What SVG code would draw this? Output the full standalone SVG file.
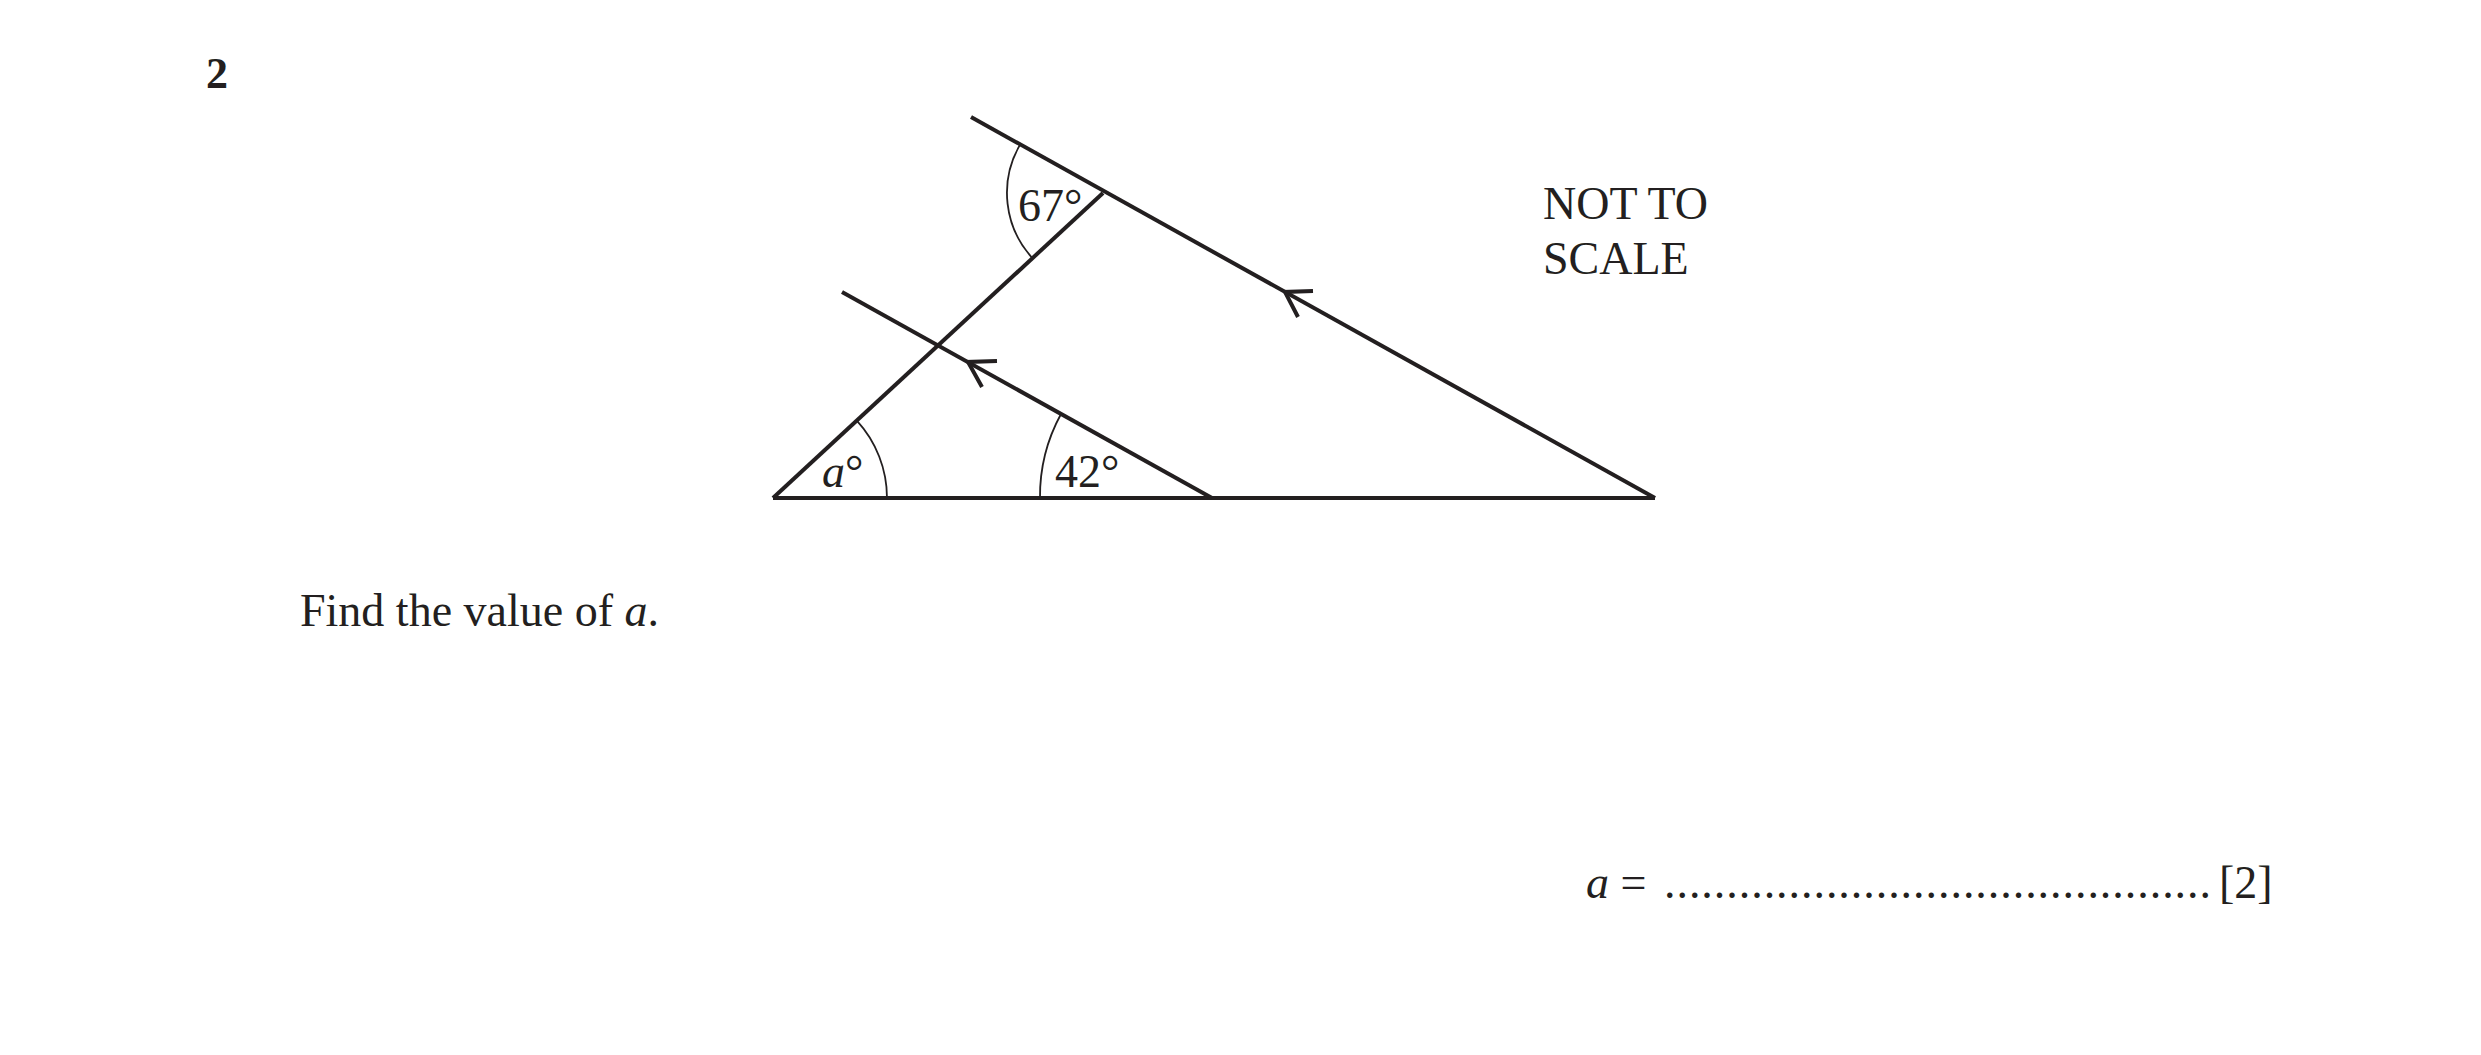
<svg xmlns="http://www.w3.org/2000/svg" width="2481" height="1055" viewBox="0 0 2481 1055">
<style>
.ln{stroke:#231f20;stroke-width:4;fill:none;stroke-linecap:butt;stroke-linejoin:miter}
.arc{stroke:#231f20;stroke-width:1.8;fill:none}
.chev{stroke:#231f20;stroke-width:4;fill:none;stroke-linejoin:miter}
.t{font-family:"Liberation Serif","Times New Roman",serif;font-size:46px;fill:#231f20}
.it{font-style:italic}
.b{font-weight:bold;font-size:44px}
</style>
<rect width="2481" height="1055" fill="#ffffff"/>
<g id="question-number"><text class="t b" x="206" y="88">2</text></g>
<g id="connectors">
<line class="ln" x1="773" y1="498" x2="1655" y2="498"/>
<line class="ln" x1="773" y1="498" x2="1103" y2="193"/>
<line class="ln" x1="971" y1="117" x2="1655" y2="498"/>
<line class="ln" x1="842" y1="292" x2="1212" y2="498"/>
<polyline class="chev" points="1313,291 1285,292 1298,317"/>
<polyline class="chev" points="997,361 968,362 982,387"/>
</g>
<g id="angle-a">
<path class="arc" d="M 887 498 A 114 114 0 0 0 856.8 420.7"/>
<text class="t" x="822" y="487"><tspan class="it">a</tspan>°</text>
</g>
<g id="angle-42">
<path class="arc" d="M 1040 498 A 172 172 0 0 1 1061 414"/>
<text class="t" x="1055" y="487">42°</text>
</g>
<g id="angle-67">
<path class="arc" d="M 1019.8 145.1 A 96 96 0 0 0 1032.4 258.1"/>
<text class="t" x="1018" y="221">67°</text>
</g>
<g id="not-to-scale">
<text class="t" x="1543" y="219">NOT TO</text>
<text class="t" x="1543" y="274">SCALE</text>
</g>
<g id="prompt">
<text class="t" x="300" y="626">Find the value of <tspan class="it">a</tspan>.</text>
</g>
<g id="answer">
<text class="t" x="1586" y="898"><tspan class="it">a</tspan> =</text>
<text class="t" x="1664" y="898" textLength="547" lengthAdjust="spacing">............................................</text>
<text class="t" x="2219" y="898">[2]</text>
</g>
</svg>
